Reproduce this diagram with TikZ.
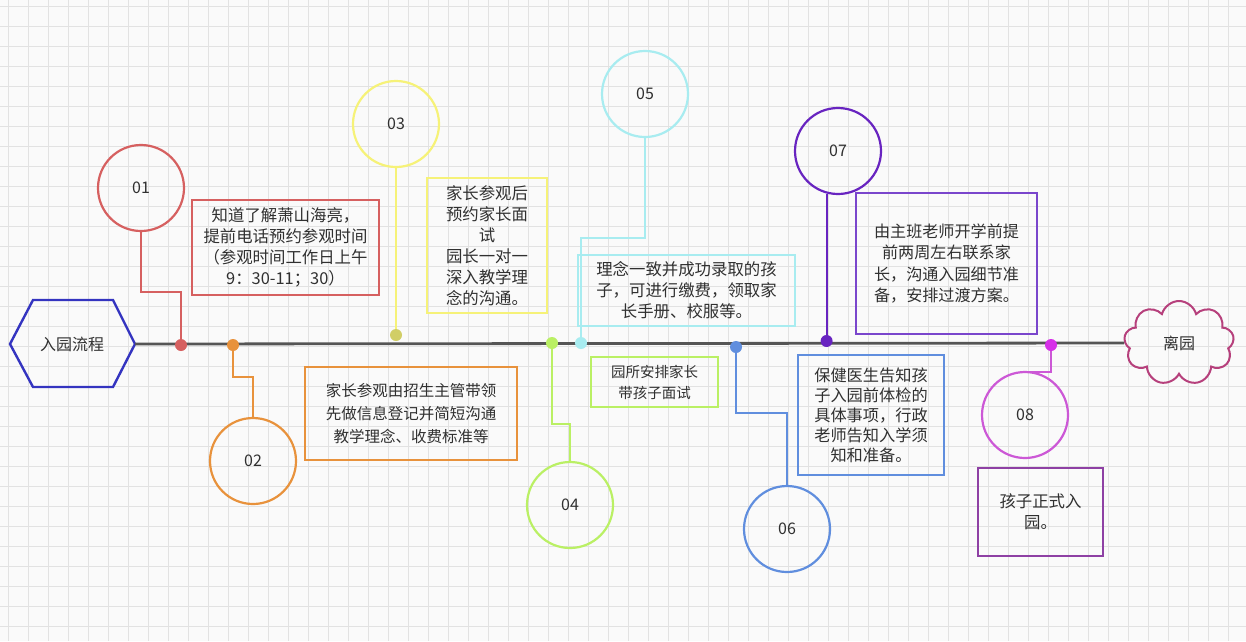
\documentclass[tikz,border=0pt]{standalone}
\usepackage{fontspec}
\setmainfont{Noto Sans CJK SC}
\usetikzlibrary{shapes.symbols}
\definecolor{txt}{RGB}{48,48,48}
\definecolor{gridc}{RGB}{226,226,226}
\definecolor{cA}{RGB}{214,96,96}
\definecolor{cB}{RGB}{232,146,60}
\definecolor{cC}{RGB}{246,242,120}
\definecolor{cD}{RGB}{186,240,100}
\definecolor{cE}{RGB}{168,236,240}
\definecolor{cF}{RGB}{96,142,222}
\definecolor{cG}{RGB}{104,36,192}
\definecolor{cGb}{RGB}{122,70,204}
\definecolor{cH}{RGB}{204,88,214}
\definecolor{cHd}{RGB}{214,48,232}
\definecolor{cHb}{RGB}{142,64,164}
\definecolor{hexc}{RGB}{52,52,192}
\definecolor{cloudc}{RGB}{182,64,124}
\definecolor{linec}{RGB}{85,85,85}
\tikzset{
  circ/.style={circle, draw, line width=2.2pt, minimum size=86pt, inner sep=0pt, font=\fontsize{16}{16}\selectfont, text=txt},
  box/.style={draw, line width=2.2pt, align=center, inner sep=0pt, text=txt, font=\fontsize{16.4}{21}\selectfont},
  dot/.style={circle, fill, inner sep=0pt, minimum size=12pt},
  conn/.style={line width=2.2pt},
  gridline/.style={draw=gridc, line width=0.7pt}
}
\begin{document}
\begin{tikzpicture}[x=1pt,y=-1pt]
\useasboundingbox (0,0) rectangle (1246,641);
\fill[white!98!black] (0,0) rectangle (1246,641);
\foreach \i in {8,28,...,1246} \draw[gridline] (\i,0) -- (\i,641);
\foreach \j in {6,26,...,641} \draw[gridline] (0,\j) -- (1246,\j);

% start hexagon
\draw[hexc, line width=2.4pt] (10,344) -- (33,300) -- (113,300) -- (135,344) -- (113,387) -- (33,387) -- cycle;
\node[text=txt, font=\fontsize{16}{16}\selectfont] (start) at (72,344) {入园流程};
\coordinate (startR) at (135,344);

% end cloud
\node[cloud, cloud puffs=9, aspect=1.35, draw=cloudc, line width=2pt, minimum width=110pt, minimum height=84pt, inner sep=0pt, text=txt, font=\fontsize{16}{16}\selectfont] (end) at (1179,343) {离园};

% circles
\node[circ, draw=cA] (c1) at (141,188) {01};
\node[circ, draw=cB] (c2) at (253,461) {02};
\node[circ, draw=cC] (c3) at (396,124) {03};
\node[circ, draw=cD] (c4) at (570,505) {04};
\node[circ, draw=cE] (c5) at (645,94) {05};
\node[circ, draw=cF] (c6) at (787,529) {06};
\node[circ, draw=cG] (c7) at (838,151) {07};
\node[circ, draw=cH] (c8) at (1025,415) {08};

% text boxes
\node[box, draw=cA, minimum width=187pt, minimum height=95pt] (b1) at (285.5,247.5)
  {知道了解萧山海亮，\\提前电话预约参观时间\\（参观时间工作日上午\\9：30-11；30）};
\node[box, draw=cB, minimum width=212pt, minimum height=93pt, font=\fontsize{15.5}{23}\selectfont] (b2) at (411,413.5)
  {家长参观由招生主管带领\\先做信息登记并简短沟通\\教学理念、收费标准等};
\node[box, draw=cC, minimum width=120pt, minimum height=135pt] (b3) at (487,245.5)
  {家长参观后\\预约家长面\\试\\园长一对一\\深入教学理\\念的沟通。};
\node[box, draw=cD, minimum width=127pt, minimum height=50pt, font=\fontsize{14.5}{21}\selectfont] (b4) at (654.5,382)
  {园所安排家长\\带孩子面试};
\node[box, draw=cE, minimum width=217pt, minimum height=71pt] (b5) at (686.5,290.5)
  {理念一致并成功录取的孩\\子，可进行缴费，领取家\\长手册、校服等。};
\node[box, draw=cF, minimum width=146pt, minimum height=120pt, font=\fontsize{16.2}{20}\selectfont] (b6) at (871,415)
  {保健医生告知孩\\子入园前体检的\\具体事项，行政\\老师告知入学须\\知和准备。};
\node[box, draw=cGb, minimum width=181pt, minimum height=141pt, font=\fontsize{16.1}{21.5}\selectfont] (b7) at (946.5,263.5)
  {由主班老师开学前提\\前两周左右联系家\\长，沟通入园细节准\\备，安排过渡方案。};
\node[box, draw=cHb, minimum width=125pt, minimum height=88pt] (b8) at (1040.5,512)
  {孩子正式入\\园。};

% dots positions
\coordinate (p1) at (181,345);
\coordinate (p2) at (233,345);
\coordinate (p3) at (395,335);
\coordinate (p4) at (552,343);
\coordinate (p5) at (581,343);
\coordinate (p6) at (736,347);
\coordinate (p7) at (827,341);
\coordinate (p8) at (1051,345);

% connectors
\coordinate (k1) at (141,292);
\draw[conn, cA] (c1.south) -- (k1) -| (p1);
\coordinate (k2) at (233,377);
\draw[conn, cB] (p2) -- (k2) -| (c2.north);
\draw[conn, cC] (c3.south) -- (c3.south |- p3);
\coordinate (k4) at (552,424);
\draw[conn, cD] (p4) -- (k4) -| (c4.north);
\coordinate (k5) at (645,238);
\draw[conn, cE] (c5.south) -- (k5) -| (p5);
\coordinate (k6) at (736,413);
\draw[conn, cF] (p6) -- (k6) -| (c6.north);
\draw[conn, cG] (c7.-105) -- (c7.-105 |- p7);
\coordinate (k8) at (1051,372);
\draw[conn, cH] (p8) -- (k8) -| (c8.north);

% timeline
\draw[linec, line width=2.8pt] (startR) -- (end.west);

% dots
\node[dot, fill=cA] (d1) at (p1) {};
\node[dot, fill=cB] (d2) at (p2) {};
\node[dot, fill=cC!85!black] (d3) at (c3.south |- p3) {};
\node[dot, fill=cD] (d4) at (p4) {};
\node[dot, fill=cE] (d5) at (p5) {};
\node[dot, fill=cF] (d6) at (p6) {};
\node[dot, fill=cG] (d7) at (c7.-105 |- p7) {};
\node[dot, fill=cHd] (d8) at (p8) {};
\end{tikzpicture}
\end{document}
